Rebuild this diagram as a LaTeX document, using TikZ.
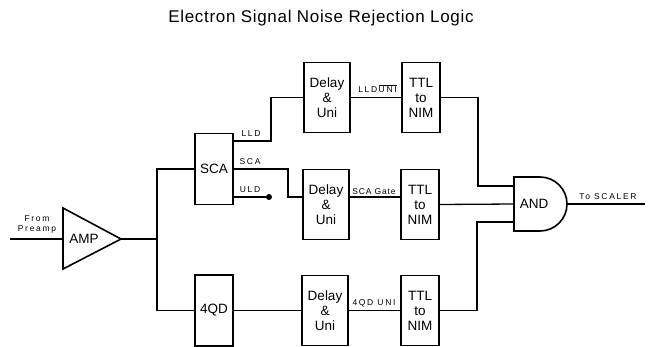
\documentclass[tikz,border=0pt]{standalone}
\usepackage{fontspec}
\setmainfont{Liberation Sans}
\newfontfamily\titlefont[LetterSpace=4]{Liberation Sans}
\newfontfamily\lblfont[LetterSpace=20]{Liberation Sans}
\newfontfamily\lblfontb[LetterSpace=10]{Liberation Sans}
\begin{document}
\begin{tikzpicture}[x=1pt,y=-1pt,
  wire/.style={line width=1.3pt},
  blk/.style={draw, line width=1.8pt, inner sep=0pt, align=center,
    font=\fontsize{13.5}{15}\selectfont},
  narrow/.style={blk, minimum width=38pt, minimum height=71pt},
  dlybox/.style={blk, minimum width=46pt, minimum height=70pt},
  ttlbox/.style={blk, minimum width=38pt, minimum height=70pt},
  lbl/.style={inner sep=0pt, font=\lblfont\fontsize{8.5}{9}\selectfont},
  gatetext/.style={inner sep=0pt, font=\fontsize{13.5}{15}\selectfont}]
\useasboundingbox (0,0) rectangle (650,347);

% title
\node[inner sep=0pt, font=\titlefont\fontsize{17}{20}\selectfont] (title) at (321,18) {Electron Signal Noise Rejection Logic};

% amplifier
\draw[line width=1.6pt, line join=miter] (63,208) -- (121,239) -- (63,269) -- cycle;
\node[gatetext] (amp) at (84,239) {AMP};
\coordinate (ampin) at (63,239);
\coordinate (ampout) at (121,239);
\coordinate (preamp) at (10,239);
\node[lbl] (from) at (37,219) {From};
\node[lbl] (preampl) at (37,229) {Preamp};

% bus
\coordinate (busmid) at (157,239);
\coordinate (bustop) at (157,169);
\coordinate (busbot) at (157,310.5);

% blocks
\node[narrow] (sca) at (214,169) {SCA};
\node[narrow] (qd) at (214,310.5) {4QD};
\node[dlybox] (d1) at (327,97.5) {Delay\\\&\\Uni};
\node[dlybox] (d2) at (326,204.5) {Delay\\\&\\Uni};
\node[dlybox] (d3) at (325,310.5) {Delay\\\&\\Uni};
\node[ttlbox] (t1) at (421,97.5) {TTL\\to\\NIM};
\node[ttlbox] (t2) at (420,204.5) {TTL\\to\\NIM};
\node[ttlbox] (t3) at (420,310.5) {TTL\\to\\NIM};

% AND gate
\draw[line width=1.6pt] (514,177) -- (540,177) arc[start angle=-90, end angle=90, radius=27] -- (514,231) -- cycle;
\node[gatetext] (and) at (534,204) {AND};
\coordinate (andi1) at (514,186);
\coordinate (andi2) at (514,204);
\coordinate (andi3) at (514,222);
\coordinate (andout) at (567,204);
\coordinate (scaler) at (645,204);

% SCA outputs
\coordinate (lldA) at (233,141);
\coordinate (scaA) at (233,169);
\coordinate (uldA) at (233,197);
\node[circle, fill, inner sep=0pt, minimum size=6pt] (uldend) at (269,197) {};

% wires
\draw[wire] (preamp) -- (ampin);
\draw[wire] (ampout) -- (busmid);
\draw[wire] (sca.west) -- (bustop) -- (busbot) -- (qd.west);
\draw[wire] (lldA) -- (271,141) |- (d1.west);
\draw[wire] (scaA) -- (288,169) |- ([yshift=7.5pt]d2.west);
\draw[wire] (uldA) -- (uldend);
\draw[wire] (qd.east) -- (d3.west);
\draw[wire] (d1.east) -- (t1.west);
\draw[wire] ([yshift=7.5pt]d2.east) -- ([yshift=7.5pt]t2.west);
\draw[wire] (d3.east) -- (t3.west);
\draw[wire] (t1.east) -- (478,97.5) |- (andi1);
\draw[wire] (t2.east) -- (andi2);
\draw[wire] (t3.east) -- (477,310.5) |- (andi3);
\draw[wire] (andout) -- (scaler);

% wire labels
\node[lbl] (lldl) at (251,134) {LLD};
\node[lbl] (scal) at (250,162) {SCA};
\node[lbl] (uldl) at (250,190) {ULD};
\node[lbl, anchor=base] (lluni) at (377.5,92.5) {LLD\,$\overline{\hbox{\lblfont\fontsize{8.5}{9}\selectfont UNI}}$};
\node[lbl, anchor=base, font=\lblfontb\fontsize{8.5}{9}\selectfont] (scagate) at (374,194.5) {SCA Gate};
\node[lbl] (qduni) at (374,303) {4QD UNI};
\node[lbl] (toscaler) at (608,197) {To SCALER};
\end{tikzpicture}
\end{document}
